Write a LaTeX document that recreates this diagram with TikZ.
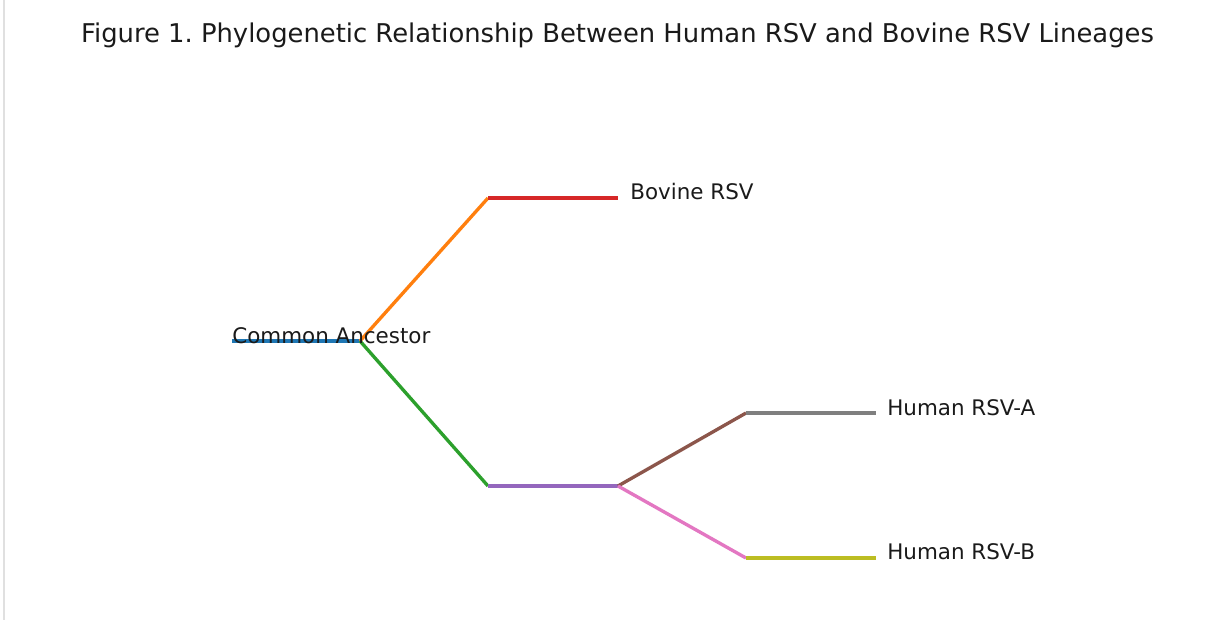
\documentclass[tikz,border=0pt]{standalone}
\usepackage{fontspec}
\setmainfont{DejaVu Sans}
\frenchspacing
\definecolor{tabblue}{HTML}{1F77B4}
\definecolor{taborange}{HTML}{FF7F0E}
\definecolor{tabgreen}{HTML}{2CA02C}
\definecolor{tabred}{HTML}{D62728}
\definecolor{tabpurple}{HTML}{9467BD}
\definecolor{tabbrown}{HTML}{8C564B}
\definecolor{tabpink}{HTML}{E377C2}
\definecolor{tabgray}{HTML}{7F7F7F}
\definecolor{tabolive}{HTML}{BCBD22}
\definecolor{txt}{HTML}{1A1A1A}
\tikzset{
  branch/.style={line width=1.9pt},
  lbl/.style={anchor=base west, inner sep=0pt, text=txt, font=\fontsize{12.2}{14}\selectfont},
  ttl/.style={anchor=base, inner sep=0pt, text=txt, font=\fontsize{14.7}{17}\selectfont}
}
\begin{document}
\begin{tikzpicture}[x=0.02cm,y=-0.02cm]
\useasboundingbox (0,0) rectangle (1224,620);
\fill[white] (0,0) rectangle (1224,620);
\draw[color=black!12, line width=0.9pt] (4,0) -- (4,620);
\node[ttl] (title) at (617.5,42) {Figure 1. Phylogenetic Relationship Between Human RSV and Bovine RSV Lineages};
\coordinate (root) at (232,341);
\coordinate (anc) at (360,341);
\coordinate (bovj) at (488,198);
\coordinate (bov) at (618,198);
\coordinate (humj) at (488,486);
\coordinate (hum) at (618,486);
\coordinate (aj) at (746,413);
\coordinate (a) at (876,413);
\coordinate (bj) at (746,558);
\coordinate (b) at (876,558);
\draw[branch, tabblue] (root) -- (anc);
\draw[branch, taborange] (anc) -- (bovj);
\draw[branch, tabred] (bovj) -- (bov);
\draw[branch, tabgreen] (anc) -- (humj);
\draw[branch, tabpurple] (humj) -- (hum);
\draw[branch, tabbrown] (hum) -- (aj);
\draw[branch, tabgray] (aj) -- (a);
\draw[branch, tabpink] (hum) -- (bj);
\draw[branch, tabolive] (bj) -- (b);
\node[lbl] (lanc) at (232,343) {Common Ancestor};
\node[lbl] (lbov) at (630,199) {Bovine RSV};
\node[lbl] (la) at (887,415) {Human RSV-A};
\node[lbl] (lb) at (887,559) {Human RSV-B};
\end{tikzpicture}
\end{document}
